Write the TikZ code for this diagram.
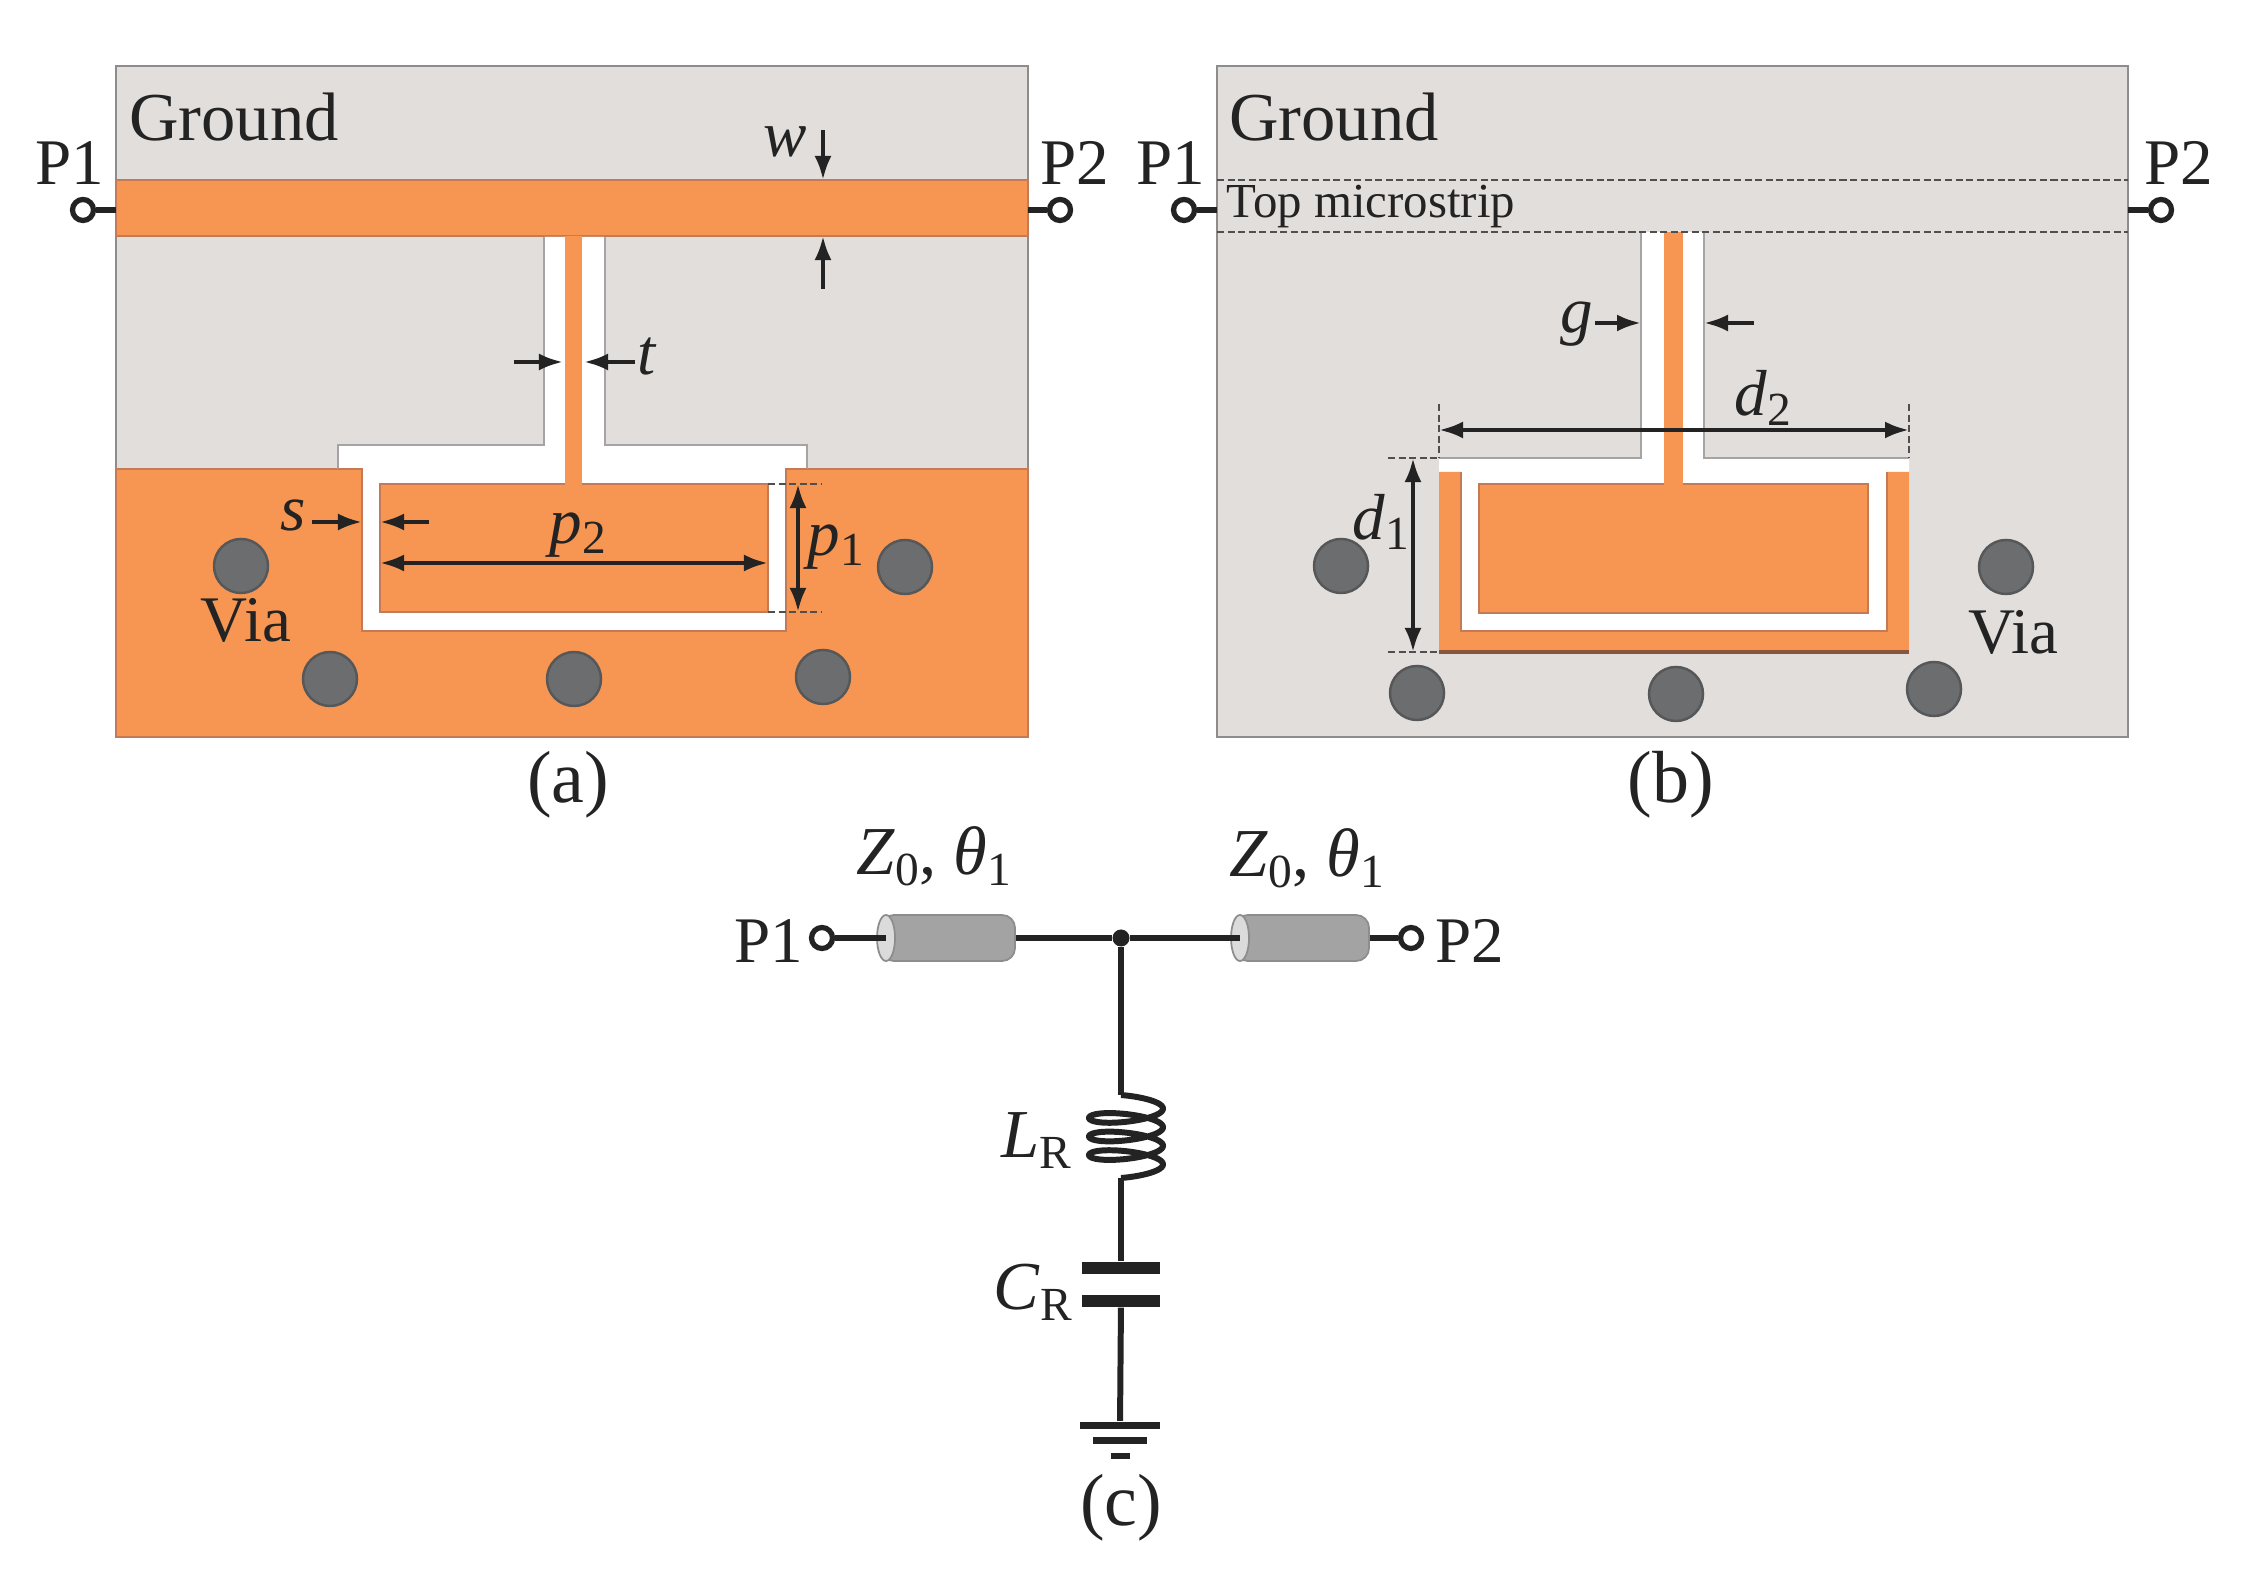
\documentclass[tikz,border=0pt]{standalone}
\usepackage{fontspec}
\setmainfont{Liberation Serif}
\usepackage{xcolor}
\usetikzlibrary{shapes,arrows.meta,positioning,calc}
\definecolor{gndcol}{HTML}{E2DEDC}
\definecolor{cucol}{HTML}{F79653}
\definecolor{cuedge}{HTML}{C47A55}
\definecolor{edgecol}{HTML}{8E8C8C}
\definecolor{viacol}{HTML}{6C6D6F}
\definecolor{inkcol}{HTML}{232323}
\newcommand{\lowsub}[1]{\raisebox{-0.35ex}{\fontsize{13.5}{14}\selectfont #1}}
\tikzset{
  gnd/.style={fill=gndcol, draw=edgecol, line width=0.8pt},
  metal/.style={fill=cucol, draw=cuedge, line width=0.7pt},
  slot/.style={fill=white, draw=none},
  slotline/.style={draw=edgecol!80, line width=0.7pt},
  via/.style={circle, fill=viacol, draw=viacol!80!black, line width=0.7pt, minimum size=0.54cm, inner sep=0pt},
  term/.style={circle, draw=inkcol, fill=white, line width=1.5pt, minimum size=0.21cm, inner sep=0pt},
  wire/.style={draw=inkcol, line width=1.7pt},
  dimline/.style={draw=inkcol, line width=1.2pt, >={Latex[length=0.24cm,width=0.17cm]}},
  extline/.style={draw=inkcol!80, line width=0.6pt, dashed, dash pattern=on 2pt off 1pt},
  lab/.style={inner sep=0pt, text=inkcol, font=\fontsize{18.5}{20}\selectfont},
  biglab/.style={inner sep=0pt, text=inkcol, font=\fontsize{19.5}{21}\selectfont},
  caplab/.style={inner sep=0pt, text=inkcol, font=\fontsize{21}{23}\selectfont},
  smalllab/.style={inner sep=0pt, text=inkcol, font=\fontsize{13.9}{16}\selectfont},
  cylbody/.style={rectangle, rounded corners=0.13cm, fill=black!36, draw=edgecol, line width=0.5pt, minimum width=1.34cm, minimum height=0.46cm, inner sep=0pt},
  cylcap/.style={ellipse, fill=black!14, draw=edgecol, line width=0.5pt, minimum width=0.18cm, minimum height=0.46cm, inner sep=0pt},
  plate/.style={rectangle, fill=inkcol, inner sep=0pt}
}
\begin{document}
\begin{tikzpicture}[x=0.01cm, y=-0.01cm]
  \useasboundingbox (0,0) rectangle (2243,1574);
  % panel (a)
  \draw[gnd] (116,66) rectangle (1028,737);
  \draw[metal] (116,180) rectangle (1028,236);
  \draw[metal] (116,469) rectangle (1028,737);
  \fill[slot] (544,237) -- (544,445) -- (338,445) -- (338,469) -- (362,469) -- (362,631) -- (786,631) -- (786,469) -- (807,469) -- (807,445) -- (605,445) -- (605,237) -- cycle;
  \draw[slotline] (544,237) -- (544,445) -- (338,445) -- (338,469);
  \draw[slotline] (605,237) -- (605,445) -- (807,445) -- (807,469);
  \draw[draw=cuedge, line width=0.7pt] (338,469) -- (362,469) -- (362,631) -- (786,631) -- (786,469) -- (807,469);
  \draw[metal] (380,484) rectangle (768,612);
  \fill[cucol] (565,236) rectangle (582,486);
  \node[via] (viaa1) at (241,566) {};
  \node[via] (viaa2) at (905,567) {};
  \node[via] (viaa3) at (330,679) {};
  \node[via] (viaa4) at (574,679) {};
  \node[via] (viaa5) at (823,677) {};
  \node[biglab] (gnda) at (234,117) {Ground};
  \node[lab] (viatxta) at (246,620) {Via};
  \node[lab] (p1a) at (70,163) {P1};
  \node[lab] (p2a) at (1075,163) {P2};
  \node[term] (t1a) at (83,210) {};
  \node[term] (t2a) at (1060,210) {};
  \coordinate (e1a) at (116,210);
  \coordinate (e2a) at (1028,210);
  \draw[wire] (t1a) -- (e1a);
  \draw[wire] (t2a) -- (e2a);
  % dimensions (a)
  \coordinate (wa) at (823,130); \coordinate (wb) at (823,180);
  \coordinate (wc) at (823,289); \coordinate (wd) at (823,236);
  \draw[dimline,->] (wa) -- (wb);
  \draw[dimline,->] (wc) -- (wd);
  \node[lab] (wlab) at (785,142) {\textit{w}};
  \coordinate (ta) at (514,362); \coordinate (tb) at (563,362);
  \coordinate (tc) at (635,362); \coordinate (td) at (584,362);
  \draw[dimline,->] (ta) -- (tb);
  \draw[dimline,->] (tc) -- (td);
  \node[lab] (tlab) at (647,357) {\textit{t}};
  \coordinate (sa) at (312,522); \coordinate (sb) at (362,522);
  \coordinate (sc) at (429,522); \coordinate (sd) at (380,522);
  \draw[dimline,->] (sa) -- (sb);
  \draw[dimline,->] (sc) -- (sd);
  \node[lab] (slab) at (293,515) {\textit{s}};
  \coordinate (pa) at (380,563); \coordinate (pb) at (768,563);
  \draw[dimline,<->] (pa) -- (pb);
  \node[lab] (p2lab) at (578,535) {\textit{p}\lowsub{2}};
  \coordinate (qa) at (798,484); \coordinate (qb) at (798,612);
  \coordinate (qc) at (768,484); \coordinate (qd) at (821,484);
  \coordinate (qe) at (768,612); \coordinate (qf) at (821,612);
  \draw[extline] (qc) -- (qd);
  \draw[extline] (qe) -- (qf);
  \draw[dimline,<->] (qa) -- (qb);
  \node[lab] (p1lab) at (836,547) {\textit{p}\lowsub{1}};
  \node[caplab] (capa) at (568,785) {(a)};
  % panel (b)
  \draw[gnd] (1217,66) rectangle (2128,737);
  \fill[slot] (1641,232) -- (1641,458) -- (1439,458) -- (1439,652) -- (1909,652) -- (1909,458) -- (1704,458) -- (1704,232) -- cycle;
  \draw[slotline] (1641,232) -- (1641,458) -- (1439,458);
  \draw[slotline] (1704,232) -- (1704,458) -- (1909,458);
  \draw[metal, draw=none] (1439,472) -- (1461,472) -- (1461,631) -- (1887,631) -- (1887,472) -- (1909,472) -- (1909,652) -- (1439,652) -- cycle;
  \draw[draw=cuedge, line width=0.7pt] (1461,472) -- (1461,631) -- (1887,631) -- (1887,472);
  \draw[draw=cuedge!70!black, line width=1pt] (1439,652) -- (1909,652);
  \draw[metal] (1479,484) rectangle (1868,613);
  \fill[cucol] (1664,232) rectangle (1683,486);
  \draw[extline] (1217,180) -- (2128,180);
  \draw[extline] (1217,232) -- (2128,232);
  \node[via] (viab1) at (1341,566) {};
  \node[via] (viab2) at (2006,567) {};
  \node[via] (viab3) at (1417,693) {};
  \node[via] (viab4) at (1676,694) {};
  \node[via] (viab5) at (1934,689) {};
  \node[biglab] (gndb) at (1334,117) {Ground};
  \node[smalllab] (topb) at (1371,207) {Top microstrip};
  \node[lab] (viatxtb) at (2013,632) {Via};
  \node[lab] (p1b) at (1171,163) {P1};
  \node[lab] (p2b) at (2179,163) {P2};
  \node[term] (t1b) at (1184,210) {};
  \node[term] (t2b) at (2161,210) {};
  \coordinate (e1b) at (1217,210);
  \coordinate (e2b) at (2128,210);
  \draw[wire] (t1b) -- (e1b);
  \draw[wire] (t2b) -- (e2b);
  % dimensions (b)
  \coordinate (ga) at (1595,323); \coordinate (gb) at (1641,323);
  \coordinate (gc) at (1754,323); \coordinate (gd) at (1704,323);
  \draw[dimline,->] (ga) -- (gb);
  \draw[dimline,->] (gc) -- (gd);
  \node[lab] (glab) at (1577,324) {\textit{g}};
  \coordinate (da) at (1439,430); \coordinate (db) at (1909,430);
  \coordinate (dc) at (1439,404); \coordinate (dd) at (1439,458);
  \coordinate (de) at (1909,404); \coordinate (df) at (1909,458);
  \draw[extline] (dc) -- (dd);
  \draw[extline] (de) -- (df);
  \draw[dimline,<->] (da) -- (db);
  \node[lab] (d2lab) at (1763,398) {\textit{d}\lowsub{2}};
  \coordinate (ha) at (1413,458); \coordinate (hb) at (1413,652);
  \coordinate (hc) at (1388,458); \coordinate (hd) at (1439,458);
  \coordinate (he) at (1388,652); \coordinate (hf) at (1439,652);
  \draw[extline] (hc) -- (hd);
  \draw[extline] (he) -- (hf);
  \draw[dimline,<->] (ha) -- (hb);
  \node[lab] (d1lab) at (1381,522) {\textit{d}\lowsub{1}};
  \node[caplab] (capb) at (1671,785) {(b)};
  % panel (c)
  \node[lab] (p1c) at (769,941) {P1};
  \node[lab] (p2c) at (1470,941) {P2};
  \node[term] (t1c) at (822,938) {};
  \node[term] (t2c) at (1411,938) {};
  \node[cylbody] (tl1) at (948,938) {};
  \node[cylcap] (tl1cap) at (886,938) {};
  \node[cylbody] (tl2) at (1302,938) {};
  \node[cylcap] (tl2cap) at (1240,938) {};
  \node[circle, fill=inkcol, minimum size=0.17cm, inner sep=0pt] (jn) at (1121,938) {};
  \node[biglab] (tl1lab) at (934,856) {\textit{Z}\lowsub{0}, \textit{θ}\lowsub{1}};
  \node[biglab] (tl2lab) at (1307,858) {\textit{Z}\lowsub{0}, \textit{θ}\lowsub{1}};
  \draw[wire] (t1c) -- (tl1cap.center);
  \draw[wire] (tl1) -- (jn);
  \draw[wire] (jn) -- (tl2cap.center);
  \draw[wire] (tl2) -- (t2c);
  \coordinate (lrtop) at (1121,1095);
  \coordinate (lrbot) at (1121,1178);
  \draw[wire] (jn) -- (lrtop);
  \draw[wire] plot[domain=0:1260, samples=220, smooth] ({1121+37*sin(\x)+5*sin(\x)*sin(\x)},{1095+\x/1260*65+9*(1-cos(\x))});
  \node[plate, minimum width=0.77cm, minimum height=0.12cm] (ctop) at (1121,1268) {};
  \node[plate, minimum width=0.77cm, minimum height=0.12cm] (cbot) at (1121,1301) {};
  \node[plate, minimum width=0.8cm, minimum height=0.07cm] (g1) at (1120,1425) {};
  \node[plate, minimum width=0.54cm, minimum height=0.07cm] (g2) at (1120,1440) {};
  \node[plate, minimum width=0.19cm, minimum height=0.06cm] (g3) at (1120,1456) {};
  \draw[wire] (lrbot) -- (ctop);
  \draw[wire] (cbot) -- (g1);
  \node[biglab] (lrlab) at (1036,1141) {\textit{L}\lowsub{R}};
  \node[biglab] (crlab) at (1033,1292) {\textit{C}\lowsub{R}};
  \node[caplab] (capc) at (1121,1508) {(c)};
\end{tikzpicture}
\end{document}
